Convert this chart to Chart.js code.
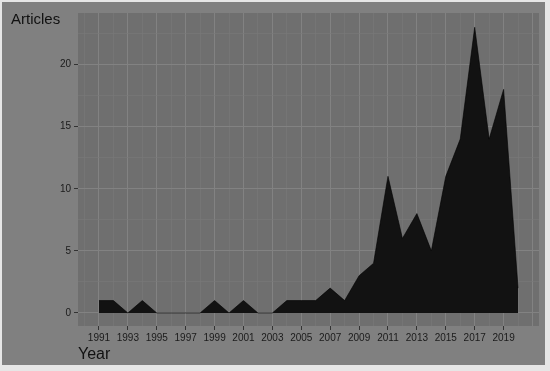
<!DOCTYPE html>
<html>
<head>
<meta charset="utf-8">
<script src="https://cdn.jsdelivr.net/npm/chart.js@4"></script>
<style>
  html, body { margin: 0; padding: 0; background: #e6e6e6; }
  #wrap { width: 550px; height: 371px; }
</style>
</head>
<body>
<div id="wrap"><canvas id="areaChart" width="550" height="371"></canvas></div>
<script>
var years = [1991, 1992, 1993, 1994, 1995, 1996, 1997, 1998, 1999, 2000,
  2001, 2002, 2003, 2004, 2005, 2006, 2007, 2008, 2009, 2010,
  2011, 2012, 2013, 2014, 2015, 2016, 2017, 2018, 2019, 2020];
var articles = [1, 1, 0, 1, 0, 0, 0, 0, 1, 0,
  1, 0, 0, 1, 1, 1, 2, 1, 3, 4,
  11, 6, 8, 5, 11, 14, 23, 14, 18, 2];
var yTicks = [0, 5, 10, 15, 20];
var yTitle = "Articles";
var xTitle = "Year";

// ggplot-style backgrounds and axis titles
var backdrop = {
  id: "backdrop",
  beforeDraw: function (chart) {
    var c = chart.ctx, a = chart.chartArea;
    c.save();
    c.fillStyle = "#e6e6e6";
    c.fillRect(0, 0, chart.width, chart.height);
    c.fillStyle = "#808080";
    c.fillRect(2, 2, 543, 363);
    c.fillStyle = "#6f6f6f";
    c.fillRect(a.left, a.top, a.right - a.left, a.bottom - a.top);
    c.restore();
  },
  afterDraw: function (chart) {
    var c = chart.ctx;
    c.save();
    c.fillStyle = "#111";
    c.textBaseline = "alphabetic";
    c.font = "15px 'Liberation Sans', Arial, sans-serif";
    c.fillText(yTitle, 11, 24);
    c.font = "16px 'Liberation Sans', Arial, sans-serif";
    c.fillText(xTitle, 78, 359);
    c.restore();
  }
};

var points = years.map(function (y, i) { return { x: y, y: articles[i] }; });

new Chart(document.getElementById("areaChart").getContext("2d"), {
  type: "line",
  data: {
    datasets: [{
      data: points,
      fill: "origin",
      backgroundColor: "#121212",
      borderColor: "#000",
      borderWidth: 0.6,
      pointRadius: 0,
      tension: 0
    }]
  },
  options: {
    responsive: false,
    animation: false,
    layout: { padding: { left: 0, top: 13, right: 11, bottom: 0 } },
    plugins: { legend: { display: false }, tooltip: { enabled: false } },
    scales: {
      x: {
        type: "linear",
        min: 1989.55,
        max: 2021.45,
        afterBuildTicks: function (scale) {
          var t = [];
          for (var y = 1990; y <= 2021; y++) t.push({ value: y });
          scale.ticks = t;
        },
        afterFit: function (scale) { scale.height = 45; },
        border: { display: false },
        grid: {
          color: function (ctx) { return ctx.tick && ctx.tick.value % 2 === 1 ? "#828282" : "#787878"; },
          lineWidth: function (ctx) { return ctx.tick && ctx.tick.value % 2 === 1 ? 1 : 0.6; },
          tickColor: function (ctx) {
            var v = ctx.tick && ctx.tick.value;
            return v % 2 === 1 && v <= 2019 ? "#333" : "rgba(0,0,0,0)";
          },
          tickLength: 4
        },
        ticks: {
          autoSkip: false,
          maxRotation: 0,
          padding: 2,
          color: "#1a1a1a",
          font: { family: "'Liberation Sans', Arial, sans-serif", size: 10 },
          callback: function (v) { return v % 2 === 1 && v <= 2019 ? String(v) : ""; }
        }
      },
      y: {
        min: -1.05,
        max: 24.15,
        afterBuildTicks: function (scale) {
          scale.ticks = [0, 2.5, 5, 7.5, 10, 12.5, 15, 17.5, 20, 22.5].map(function (v) { return { value: v }; });
        },
        afterFit: function (scale) { scale.width = 78; },
        border: { display: false },
        grid: {
          color: function (ctx) { return ctx.tick && yTicks.indexOf(ctx.tick.value) >= 0 ? "#828282" : "#787878"; },
          lineWidth: function (ctx) { return ctx.tick && yTicks.indexOf(ctx.tick.value) >= 0 ? 1 : 0.6; },
          tickColor: function (ctx) { return ctx.tick && yTicks.indexOf(ctx.tick.value) >= 0 ? "#333" : "rgba(0,0,0,0)"; },
          tickLength: 4
        },
        ticks: {
          padding: 3,
          color: "#1a1a1a",
          font: { family: "'Liberation Sans', Arial, sans-serif", size: 10 },
          callback: function (v) { return yTicks.indexOf(v) >= 0 ? String(v) : ""; }
        }
      }
    }
  },
  plugins: [backdrop]
});
</script>
</body>
</html>
